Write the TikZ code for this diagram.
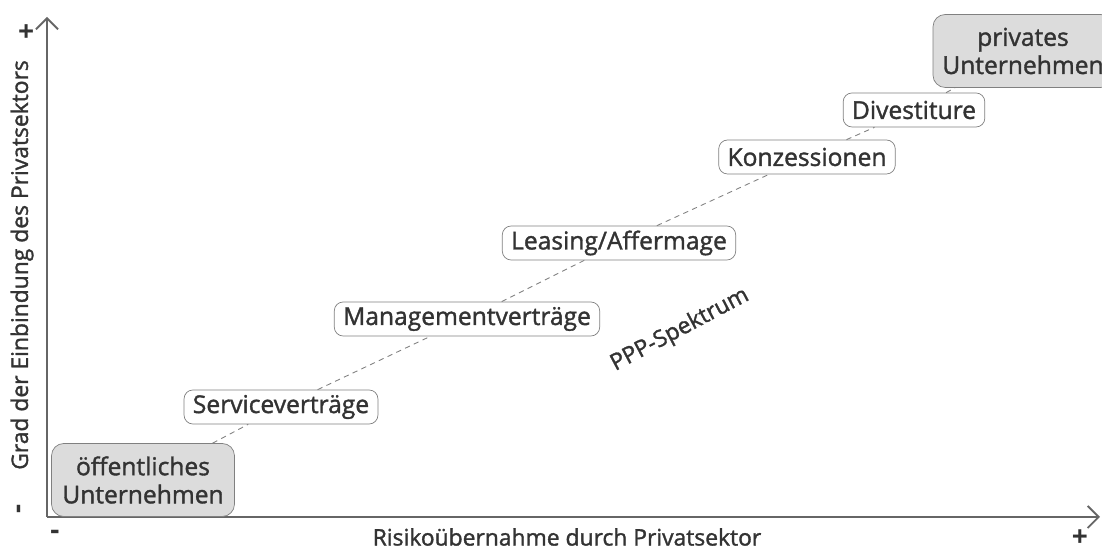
\documentclass[tikz,border=0pt]{standalone}
\usepackage{fontspec}
\setmainfont{Open Sans}[UprightFeatures={FakeBold=1.4}]
\usepackage{tikz}
\usetikzlibrary{arrows.meta,positioning}
\definecolor{txtgray}{HTML}{333333}
\definecolor{axgray}{HTML}{666666}
\definecolor{boxfill}{HTML}{DCDCDC}

\begin{document}
\begin{tikzpicture}[
    font=\fontsize{13}{15}\selectfont,
    text=txtgray,
    phase/.style={draw=gray, rounded corners=5pt, fill=white, align=center, font=\fontsize{14}{16}\selectfont, minimum height=0.68cm, inner xsep=5pt, inner ysep=2pt},
    endbox/.style={phase, fill=boxfill, minimum width=3.66cm, minimum height=1.46cm, rounded corners=7pt},
    axis/.style={-{Straight Barb[length=2.2mm,width=4.4mm]}, axgray, line width=1.1pt},
    spec/.style={dash pattern=on 3pt off 2.5pt, gray, line width=0.5pt},
    sign/.style={font=\fontsize{16}{16}\bfseries}
  ]
    \useasboundingbox (0,0) rectangle (22.04,11.04);

    % axes
    \coordinate (orig) at (0.94,0.70);
    \coordinate (ytip) at (0.94,10.70);
    \coordinate (xtip) at (22.0,0.70);
    \draw[axis] (orig) -- (ytip);
    \draw[axis] (orig) -- (xtip);

    \node[rotate=90] (ylab) at (0.44,5.74) {Grad der Einbindung des Privatsektors};
    \node[sign, rotate=90] (ymin) at (0.44,0.86) {-};
    \node[sign, rotate=90] (yplus) at (0.56,10.42) {+};
    \node (xlab) at (11.34,0.30) {Risikoübernahme durch Privatsektor};
    \node[sign] (xmin) at (1.10,0.34) {-};
    \node[sign] (xplus) at (21.60,0.28) {+};

    % spectrum
    \node[endbox] (oeff) at (2.86,1.44) {öffentliches\\Unternehmen};
    \node[phase] (serv) at (5.62,2.90) {Serviceverträge};
    \node[phase] (mgmt) at (9.34,4.66) {Managementverträge};
    \node[phase] (leas) at (12.38,6.18) {Leasing/Affermage};
    \node[phase] (konz) at (16.14,7.90) {Konzessionen};
    \node[phase] (dive) at (18.28,8.84) {Divestiture};
    \node[endbox, minimum width=3.6cm] (priv) at (20.46,10.02) {privates\\Unternehmen};

    \draw[spec] (oeff) -- (serv) -- (mgmt) -- (leas) -- (konz) -- (dive) -- (priv);

    \node[rotate=28] (ppp) at (13.60,4.44) {PPP-Spektrum};
  \end{tikzpicture}
\end{document}
